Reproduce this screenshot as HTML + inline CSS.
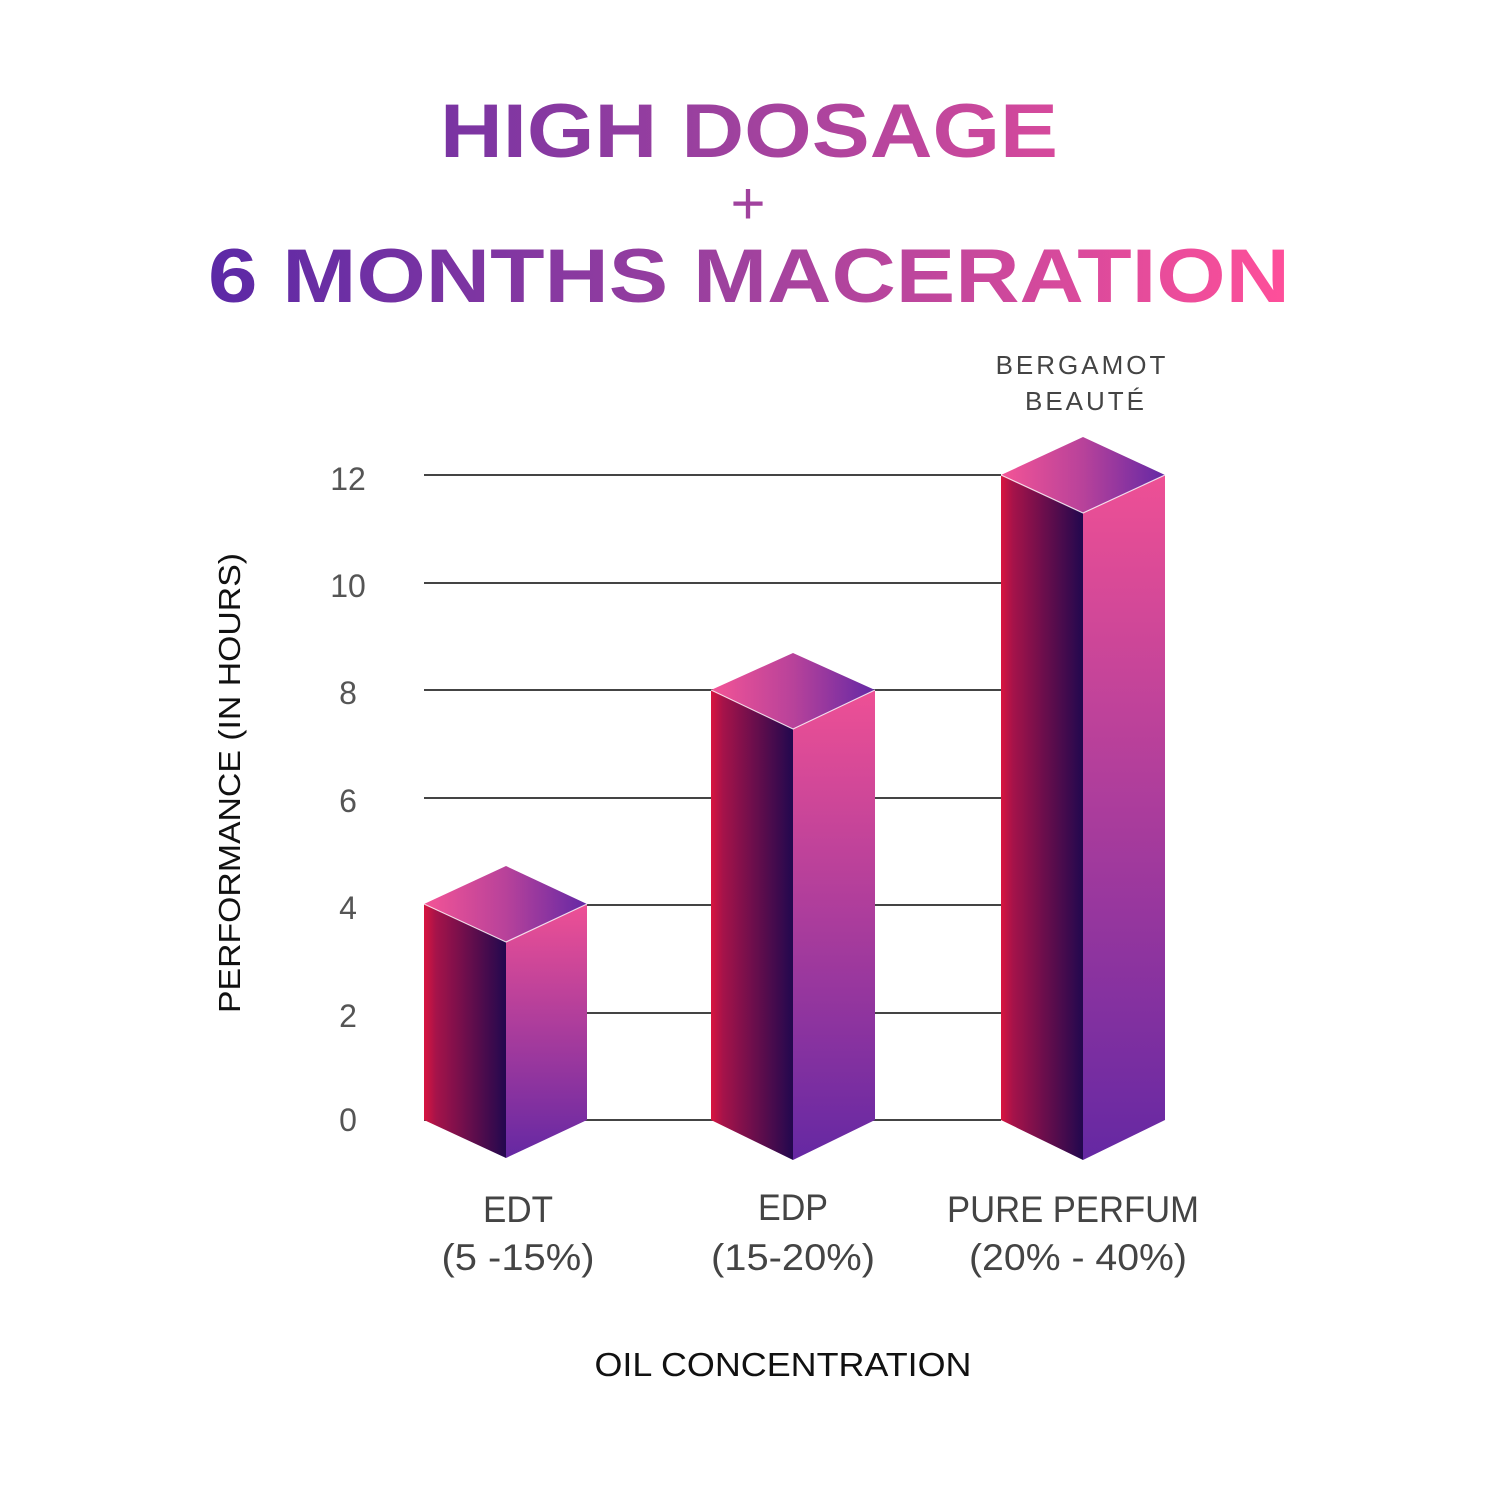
<!DOCTYPE html>
<html><head><meta charset="utf-8"><style>html,body{margin:0;padding:0;background:#fff}svg{display:block}</style></head>
<body>
<svg width="1500" height="1500" viewBox="0 0 1500 1500" xmlns="http://www.w3.org/2000/svg" font-family="Liberation Sans, sans-serif">
<defs>
<linearGradient id="tg" x1="200" x2="1290" y1="0" y2="0" gradientUnits="userSpaceOnUse">
<stop offset="0" stop-color="#5a28a6"/><stop offset="0.5" stop-color="#a0429e"/><stop offset="1" stop-color="#ff4f9a"/></linearGradient>
<linearGradient id="lf" x1="0" x2="1" y1="0" y2="0"><stop offset="0" stop-color="#d8143f"/><stop offset="0.15" stop-color="#a5134a"/><stop offset="1" stop-color="#22084e"/></linearGradient>
<linearGradient id="rf" x1="0" x2="0" y1="0" y2="1"><stop offset="0" stop-color="#ee5095"/><stop offset="1" stop-color="#6528a3"/></linearGradient>
<linearGradient id="tp" x1="0" x2="1" y1="0" y2="0"><stop offset="0" stop-color="#f45496"/><stop offset="0.5" stop-color="#b8429a"/><stop offset="1" stop-color="#6428a5"/></linearGradient>
</defs>
<g fill="url(#tg)" font-weight="bold">
<text x="749" y="157" font-size="76" text-anchor="middle" textLength="618" lengthAdjust="spacingAndGlyphs">HIGH DOSAGE</text>
<text x="748" y="224" font-size="60" text-anchor="middle" font-weight="normal">+</text>
<text x="749" y="302" font-size="76" text-anchor="middle" textLength="1082" lengthAdjust="spacingAndGlyphs">6 MONTHS MACERATION</text>
</g>
<g stroke="#444" stroke-width="2">
<line x1="424" x2="1001" y1="475" y2="475"/><line x1="424" x2="1001" y1="583" y2="583"/><line x1="424" x2="1001" y1="690" y2="690"/><line x1="424" x2="1001" y1="798" y2="798"/><line x1="424" x2="1001" y1="905" y2="905"/><line x1="424" x2="1001" y1="1013" y2="1013"/><line x1="424" x2="1001" y1="1120" y2="1120"/>
</g>
<g fill="#555" font-size="32" text-anchor="middle">
<text x="348" y="490">12</text><text x="348" y="597">10</text><text x="348" y="704">8</text><text x="348" y="812">6</text><text x="348" y="919">4</text><text x="348" y="1027">2</text><text x="348" y="1131">0</text>
</g>
<text transform="translate(240,783) rotate(-90)" font-size="31" text-anchor="middle" fill="#111" textLength="460" lengthAdjust="spacingAndGlyphs">PERFORMANCE (IN HOURS)</text>
<g>
<polygon points="424,904 506,942 506,1158 424,1120" fill="url(#lf)"/>
<polygon points="506,942 587,904 587,1120 506,1158" fill="url(#rf)"/>
<polygon points="424,904 506,866 587,904 506,942" fill="url(#tp)"/>
<polyline points="424,904 506,942 587,904" fill="none" stroke="#fff" stroke-width="1.2" opacity="0.8"/>

<polygon points="711,690 793,729 793,1160 711,1120" fill="url(#lf)"/>
<polygon points="793,729 875,690 875,1120 793,1160" fill="url(#rf)"/>
<polygon points="711,690 793,653 875,690 793,729" fill="url(#tp)"/>
<polyline points="711,690 793,729 875,690" fill="none" stroke="#fff" stroke-width="1.2" opacity="0.8"/>

<polygon points="1001,475 1083,513 1083,1160 1001,1120" fill="url(#lf)"/>
<polygon points="1083,513 1165,475 1165,1120 1083,1160" fill="url(#rf)"/>
<polygon points="1001,475 1083,437 1165,475 1083,513" fill="url(#tp)"/>
<polyline points="1001,475 1083,513 1165,475" fill="none" stroke="#fff" stroke-width="1.2" opacity="0.8"/>
</g>
<g fill="#444" font-size="26" text-anchor="middle" letter-spacing="3">
<text x="1082" y="374">BERGAMOT</text><text x="1086" y="410">BEAUTÉ</text>
</g>
<g fill="#444" font-size="37" text-anchor="middle">
<text x="518" y="1222" textLength="70" lengthAdjust="spacingAndGlyphs">EDT</text><text x="518" y="1270" textLength="153" lengthAdjust="spacingAndGlyphs">(5 -15%)</text>
<text x="793" y="1220" textLength="70" lengthAdjust="spacingAndGlyphs">EDP</text><text x="793" y="1270" textLength="164" lengthAdjust="spacingAndGlyphs">(15-20%)</text>
<text x="1073" y="1222" textLength="252" lengthAdjust="spacingAndGlyphs">PURE PERFUM</text><text x="1078" y="1270" textLength="218" lengthAdjust="spacingAndGlyphs">(20% - 40%)</text>
</g>
<text x="783" y="1376" font-size="33" text-anchor="middle" fill="#111" textLength="377" lengthAdjust="spacingAndGlyphs">OIL CONCENTRATION</text>
</svg>
</body></html>
